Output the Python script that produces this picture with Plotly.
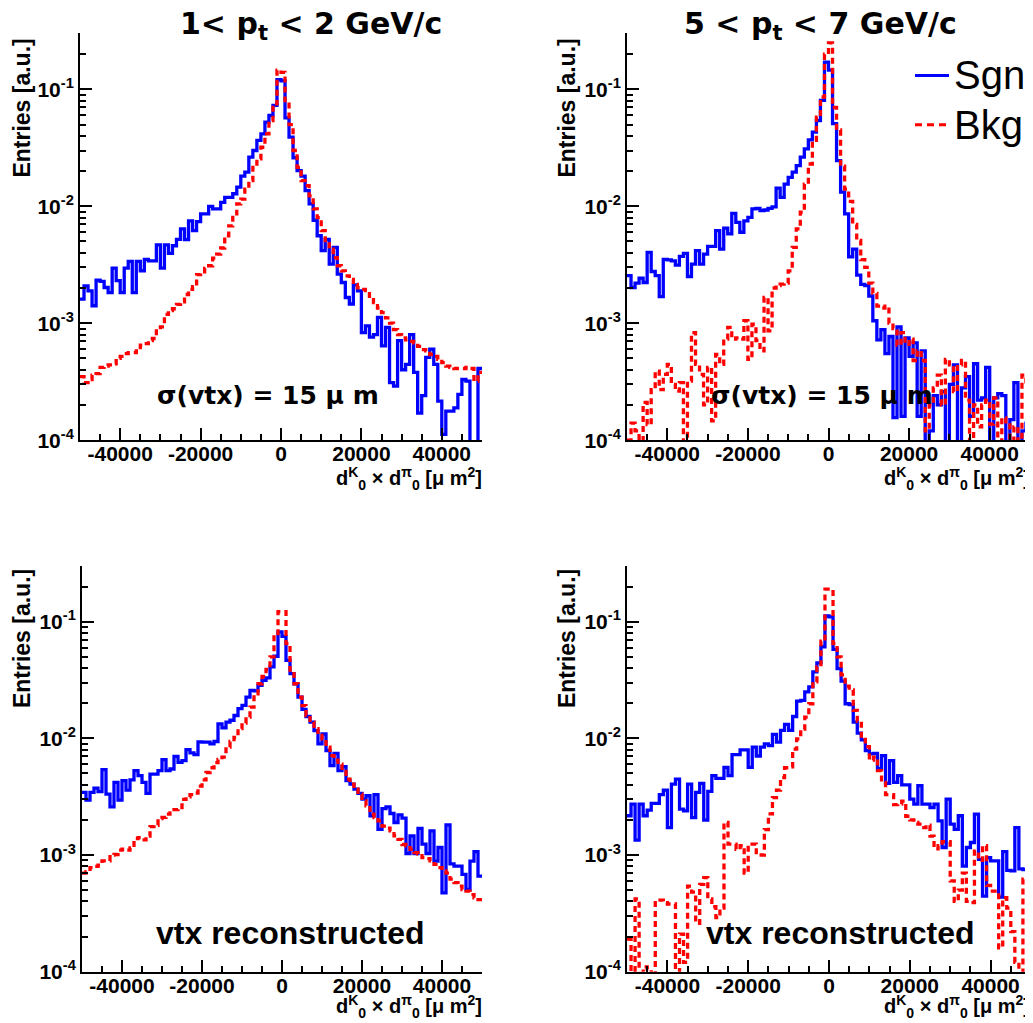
import numpy as np
import plotly.graph_objects as go

# ---------------- data (bin contents, 100 bins from -50000 to 50000) ----------------
bin_lo, bin_hi, n_bins = -50000, 50000, 100

sgn_p1 = [1.61e-3, 2.09e-3, 1.89e-3, 1.41e-3, 2.34e-3, 2.28e-3, 2.02e-3, 1.83e-3, 2.96e-3, 2.31e-3,
          1.83e-3, 2.96e-3, 3.38e-3, 1.83e-3, 3.38e-3, 2.81e-3, 3.52e-3, 3.42e-3, 3.42e-3, 4.67e-3,
          2.96e-3, 4.67e-3, 3.96e-3, 4.6e-3, 5.21e-3, 6.4e-3, 5.18e-3, 7.5e-3, 6.2e-3, 7.4e-3,
          8.6e-3, 8.6e-3, 1.0e-2, 9.5e-3, 9.5e-3, 1.08e-2, 1.19e-2, 1.19e-2, 1.28e-2, 1.46e-2,
          1.81e-2, 1.96e-2, 2.63e-2, 3.0e-2, 3.66e-2, 4.17e-2, 5.25e-2, 5.98e-2, 7.3e-2, 0.121,
          0.118, 0.057, 0.039, 0.026, 0.0202, 0.0181, 0.0136, 0.0105, 7.6e-3, 5.6e-3,
          4.17e-3, 5.2e-3, 3.2e-3, 4.45e-3, 2.63e-3, 2.23e-3, 1.66e-3, 1.46e-3, 2.13e-3, 1.89e-3,
          8.3e-4, 9.5e-4, 7.6e-4, 8.0e-4, 1.12e-3, 6.4e-4, 9.2e-4, 3.1e-4, 2.9e-4, 7.1e-4,
          4.0e-4, 4.45e-4, 8.0e-4, 3.8e-4, 1.7e-4, 2.4e-4, 5.1e-4, 6.0e-4, 4.45e-4, 2.16e-4,
          1.12e-4, 1.77e-4, 1.77e-4, 1.89e-4, 2.46e-4, 3.3e-4, 3.2e-4, 0, 0, 4.1e-4]

bkg_p1 = [3.5e-4, 3.1e-4, 3.3e-4, 3.6e-4, 3.7e-4, 4.2e-4, 4.3e-4, 4.4e-4, 4.5e-4, 5.0e-4,
          5.2e-4, 5.5e-4, 5.6e-4, 5.6e-4, 5.8e-4, 6.5e-4, 6.7e-4, 7.1e-4, 7.4e-4, 8.6e-4,
          9.3e-4, 1.19e-3, 1.28e-3, 1.33e-3, 1.45e-3, 1.52e-3, 1.76e-3, 1.95e-3, 2.05e-3, 2.6e-3,
          2.75e-3, 2.95e-3, 3.1e-3, 3.6e-3, 3.9e-3, 4.4e-3, 5.6e-3, 6.8e-3, 8.6e-3, 1.05e-2,
          1.15e-2, 1.4e-2, 1.66e-2, 2.15e-2, 2.54e-2, 3.2e-2, 4.16e-2, 5.4e-2, 7.5e-2, 0.146,
          0.14, 0.08, 0.05, 0.030, 0.0215, 0.0166, 0.015, 0.0123, 9.5e-3, 8.0e-3,
          6.2e-3, 5.1e-3, 4.3e-3, 3.64e-3, 3.1e-3, 2.8e-3, 2.54e-3, 2.37e-3, 2.15e-3, 2.01e-3,
          1.95e-3, 1.9e-3, 1.7e-3, 1.5e-3, 1.35e-3, 1.23e-3, 1.11e-3, 1.0e-3, 8.8e-4, 8.0e-4,
          7.5e-4, 7.2e-4, 7.0e-4, 6.8e-4, 6.35e-4, 5.95e-4, 5.8e-4, 5.4e-4, 5.2e-4, 4.9e-4,
          4.6e-4, 4.3e-4, 4.2e-4, 4.1e-4, 4.1e-4, 4.1e-4, 4.2e-4, 4.1e-4, 3.2e-4, 3.8e-4]

sgn_p2 = [2.55e-3, 2.02e-3, 2.2e-3, 2.43e-3, 2.23e-3, 4.03e-3, 2.77e-3, 2.55e-3, 1.69e-3, 3.52e-3,
          3.48e-3, 3.42e-3, 3.14e-3, 3.73e-3, 3.96e-3, 2.51e-3, 3.2e-3, 4.17e-3, 3.2e-3, 3.9e-3,
          4.54e-3, 4.55e-3, 6.2e-3, 4.31e-3, 6.5e-3, 5.8e-3, 8.7e-3, 7.3e-3, 6.0e-3, 7.5e-3,
          8.05e-3, 9.5e-3, 9.6e-3, 9.2e-3, 9.3e-3, 9.6e-3, 9.9e-3, 1.43e-2, 1.19e-2, 1.55e-2,
          1.77e-2, 1.96e-2, 2.23e-2, 2.63e-2, 3.1e-2, 3.7e-2, 4.3e-2, 5.4e-2, 8.05e-2, 0.171,
          0.146, 0.051, 0.0246, 0.0132, 8.6e-3, 3.7e-3, 4.3e-3, 2.58e-3, 2.15e-3, 2.1e-3,
          1.71e-3, 1.05e-3, 7.2e-4, 8.8e-4, 5.5e-4, 7.7e-4, 1.56e-4, 9.3e-4, 1.6e-4, 7.5e-4,
          5.2e-4, 6.8e-4, 1.6e-4, 5.8e-4, 0, 1.2e-4, 2.4e-4, 2.0e-4, 2.6e-4, 0,
          3.0e-4, 4.4e-4, 0, 2.8e-4, 3.5e-4, 1.6e-4, 4.5e-4, 2.2e-4, 2.3e-4, 4.2e-4,
          0, 2.3e-4, 2.5e-4, 2.4e-4, 0, 1.5e-4, 3.1e-4, 0, 1.2e-4, 1.4e-4]

bkg_p2 = [1.0e-4, 1.4e-4, 1.2e-4, 0, 2.1e-4, 1.36e-4, 2.7e-4, 3.9e-4, 2.7e-4, 3.65e-4,
          4.45e-4, 3.0e-4, 2.63e-4, 3.1e-4, 0, 3.2e-4, 8.3e-4, 4.45e-4, 3.65e-4, 2.0e-4,
          4.2e-4, 1.46e-4, 5.4e-4, 4.45e-4, 7.3e-4, 9.2e-4, 7.3e-4, 7.5e-4, 7.3e-4, 1.05e-3,
          4.9e-4, 9.8e-4, 7.1e-4, 5.8e-4, 1.66e-3, 8.6e-4, 2.0e-3, 2.1e-3, 2.16e-3, 2.2e-3,
          2.8e-3, 4.45e-3, 6.4e-3, 8.9e-3, 1.55e-2, 2.3e-2, 3.66e-2, 5.8e-2, 8.6e-2, 0.2,
          0.25, 0.07, 0.045, 0.022, 0.014, 0.011, 7.0e-3, 5.1e-3, 3.5e-3, 3.0e-3,
          2.2e-3, 1.8e-3, 1.4e-3, 1.35e-3, 1.4e-3, 1.0e-3, 9.0e-4, 6.5e-4, 8.3e-4, 6.6e-4,
          7.3e-4, 4.8e-4, 5.8e-4, 4.8e-4, 1.2e-4, 2.0e-4, 2.8e-4, 3.6e-4, 2.0e-4, 4.9e-4,
          4.4e-4, 2.6e-4, 4.4e-4, 4.8e-4, 2.2e-4, 0, 2.0e-4, 1.3e-4, 2.0e-4, 2.2e-4,
          1.37e-4, 2.3e-4, 0, 1.55e-4, 1.35e-4, 0, 1.3e-4, 0, 3.6e-4, 3.0e-4]

sgn_p3 = [3.44e-3, 2.96e-3, 3.44e-3, 3.75e-3, 3.5e-3, 5.39e-3, 3.33e-3, 2.59e-3, 4.2e-3, 2.96e-3,
          4.34e-3, 3.6e-3, 4.4e-3, 5.28e-3, 4.79e-3, 4.2e-3, 3.37e-3, 4.94e-3, 4.94e-3, 5.28e-3,
          6.58e-3, 5.28e-3, 5.46e-3, 7.0e-3, 6.23e-3, 6.44e-3, 8.0e-3, 7.5e-3, 7.26e-3, 9.33e-3,
          9.27e-3, 9.27e-3, 8.97e-3, 9.4e-3, 1.33e-2, 1.23e-2, 1.38e-2, 1.43e-2, 1.57e-2, 1.8e-2,
          1.92e-2, 2.26e-2, 2.58e-2, 2.55e-2, 2.85e-2, 3.15e-2, 3.3e-2, 4.1e-2, 5.06e-2, 8.2e-2,
          7.5e-2, 4.67e-2, 3.59e-2, 2.94e-2, 2.26e-2, 1.77e-2, 1.54e-2, 1.38e-2, 1.167e-2, 8.97e-3,
          1.09e-2, 7.85e-3, 5.83e-3, 7.45e-3, 5.28e-3, 5.73e-3, 4.34e-3, 4.06e-3, 3.67e-3, 3.37e-3,
          3.01e-3, 3.22e-3, 2.17e-3, 3.29e-3, 1.66e-3, 2.5e-3, 2.59e-3, 2.27e-3, 1.9e-3, 2.21e-3,
          2.07e-3, 1.03e-3, 1.46e-3, 1.03e-3, 1.69e-3, 1.24e-3, 1.03e-3, 1.61e-3, 8.87e-4, 1.16e-3,
          4.74e-4, 1.81e-3, 8.4e-4, 8.03e-4, 8.03e-4, 6.82e-4, 5.06e-4, 8.87e-4, 1.07e-3, 6.6e-4]

bkg_p3 = [7.0e-4, 7.2e-4, 7.8e-4, 8.0e-4, 8.2e-4, 8.9e-4, 8.9e-4, 1.0e-3, 1.01e-3, 1.1e-3,
          1.12e-3, 1.1e-3, 1.15e-3, 1.38e-3, 1.41e-3, 1.35e-3, 1.45e-3, 1.75e-3, 1.8e-3, 2.05e-3,
          2.1e-3, 2.24e-3, 2.3e-3, 2.45e-3, 2.55e-3, 3.0e-3, 3.15e-3, 3.3e-3, 3.4e-3, 3.9e-3,
          4.4e-3, 5.1e-3, 5.6e-3, 6.2e-3, 6.6e-3, 6.9e-3, 8.4e-3, 9.4e-3, 1.02e-2, 1.21e-2,
          1.35e-2, 1.52e-2, 1.85e-2, 2.41e-2, 2.94e-2, 3.4e-2, 3.9e-2, 5.0e-2, 7.4e-2, 0.122,
          0.122, 0.065, 0.0384, 0.0294, 0.0226, 0.0191, 0.0157, 0.0138, 0.0121, 0.0106,
          9.9e-3, 8.4e-3, 7.1e-3, 6.5e-3, 6.0e-3, 5.2e-3, 4.48e-3, 4.06e-3, 3.67e-3, 3.32e-3,
          2.91e-3, 2.64e-3, 2.24e-3, 2.09e-3, 1.96e-3, 1.77e-3, 1.7e-3, 1.61e-3, 1.46e-3, 1.36e-3,
          1.23e-3, 1.2e-3, 1.12e-3, 1.05e-3, 1.02e-3, 9.5e-4, 9.3e-4, 8.9e-4, 8.3e-4, 7.8e-4,
          7.3e-4, 7.0e-4, 6.2e-4, 5.8e-4, 5.4e-4, 5.06e-4, 4.9e-4, 4.58e-4, 4.3e-4, 4.15e-4]

sgn_p4 = [2.17e-3, 2.73e-3, 1.34e-3, 2.73e-3, 2.17e-3, 2.43e-3, 2.77e-3, 2.77e-3, 3.29e-3, 3.6e-3,
          1.72e-3, 4.06e-3, 4.48e-3, 2.47e-3, 2.39e-3, 4.06e-3, 2.09e-3, 3.44e-3, 4.11e-3, 1.99e-3,
          3.51e-3, 4.79e-3, 4.54e-3, 4.54e-3, 5.65e-3, 4.79e-3, 7.26e-3, 7.26e-3, 7.96e-3, 7.96e-3,
          5.65e-3, 8.4e-3, 7.06e-3, 8.4e-3, 8.97e-3, 8.68e-3, 1.08e-2, 9.27e-3, 1.17e-2, 1.32e-2,
          1.17e-2, 1.54e-2, 2.09e-2, 2.12e-2, 2.5e-2, 2.76e-2, 3.71e-2, 4.44e-2, 6.1e-2, 0.112,
          0.11, 0.058, 0.0396, 0.031, 0.0198, 0.0195, 0.0138, 0.0111, 9.7e-3, 7.85e-3,
          7.36e-3, 7.45e-3, 5.5e-3, 7.1e-3, 4.11e-3, 6.44e-3, 4.2e-3, 4.79e-3, 4.0e-3, 4.0e-3,
          3.01e-3, 2.73e-3, 3.93e-3, 2.73e-3, 2.73e-3, 2.55e-3, 2.73e-3, 1.96e-3, 1.16e-3, 3.01e-3,
          1.84e-3, 1.66e-3, 2.17e-3, 8.03e-4, 1.16e-3, 1.28e-3, 2.24e-3, 9.18e-4, 4.44e-4, 9.5e-4,
          8.9e-4, 8.9e-4, 4.35e-4, 1.07e-3, 7.38e-4, 7.3e-4, 1.72e-3, 7.6e-4, 7.5e-4, 7.1e-4]

bkg_p4 = [1.9e-4, 0, 4.2e-4, 0, 1.1e-4, 1.05e-4, 0, 4.1e-4, 4.1e-4, 3.9e-4,
          3.8e-4, 3.8e-4, 0, 2.1e-4, 1.2e-4, 5.4e-4, 4.8e-4, 2.6e-4, 5.6e-4, 6.4e-4,
          4.2e-4, 3.6e-4, 2.9e-4, 3.5e-4, 1.9e-3, 1.24e-3, 1.24e-3, 1.12e-3, 1.2e-3, 7.0e-4,
          1.24e-3, 1.24e-3, 1.0e-3, 1.0e-3, 1.65e-3, 2.25e-3, 3.1e-3, 3.6e-3, 4.6e-3, 5.6e-3,
          5.7e-3, 8.1e-3, 9.9e-3, 1.2e-2, 1.52e-2, 1.98e-2, 3.05e-2, 4.1e-2, 6.8e-2, 0.19,
          0.19, 0.065, 0.05, 0.035, 0.028, 0.026, 0.0174, 0.014, 9.8e-3, 8.5e-3,
          6.5e-3, 6.9e-3, 5.3e-3, 4.2e-3, 3.3e-3, 3.3e-3, 2.7e-3, 2.73e-3, 2.9e-3, 2.15e-3,
          2.0e-3, 1.9e-3, 1.84e-3, 1.72e-3, 1.8e-3, 1.45e-3, 1.13e-3, 1.2e-3, 1.3e-3, 1.3e-3,
          6.0e-4, 4.0e-4, 5.0e-4, 7.0e-4, 4.0e-4, 3.9e-4, 1.08e-3, 9.0e-4, 1.2e-3, 5.5e-4,
          4.9e-4, 4.9e-4, 1.6e-4, 4.3e-4, 3.5e-4, 2.2e-4, 1.2e-4, 0, 6.2e-4, 4.0e-4]

x_tick_vals = [-40000, -20000, 0, 20000, 40000]
y_tick_vals = [1e-4, 1e-3, 1e-2, 1e-1]
y_tick_text = ["10<sup>-4</sup>", "10<sup>-3</sup>", "10<sup>-2</sup>", "10<sup>-1</sup>"]

titles = ["1&lt; p<sub>t</sub> &lt; 2 GeV/c", "5 &lt; p<sub>t</sub> &lt; 7 GeV/c"]
labels = ["σ(vtx) = 15 μ m", "vtx reconstructed"]
y_title = "Entries [a.u.]"
x_title = "d<sup>K</sup><sub>0</sub> × d<sup>π</sup><sub>0</sub> [μ m<sup>2</sup>]"
legend_names = ["Sgn", "Bkg"]

# ---------------- figure ----------------
# Positions below are given in window pixels; the page keeps its default 8px body
# margin and the captured page height (8 + H + 8) is mapped onto the 1023px window.
W, H, OFF = 1033, 1023, 8
VS = 1023.0 / (H + 2 * OFF)      # vertical factor between page and picture
BLUE, RED = "#0000ff", "#ff0000"
edges = np.linspace(bin_lo, bin_hi, n_bins + 1)


def fx(x):
    return (float(x) - OFF) / W


def fy(y):
    return 1.0 - (float(y) / VS - OFF) / H


panels = [
    dict(box=(80, 482, 33, 438), sgn=sgn_p1, bkg=bkg_p1),
    dict(box=(627, 1030, 33, 438), sgn=sgn_p2, bkg=bkg_p2),
    dict(box=(82, 482, 563, 967), sgn=sgn_p3, bkg=bkg_p3),
    dict(box=(627, 1031, 563, 967), sgn=sgn_p4, bkg=bkg_p4),
]

try:
    go.layout.XAxis(ticklabelstandoff=-6)
    XSTAND = -6
except Exception:
    XSTAND = 0

fig = go.Figure()
layout = dict(width=W, height=H, margin=dict(l=0, r=0, t=0, b=0),
              paper_bgcolor="white", plot_bgcolor="white", showlegend=False)

minor_y = [k * 10.0 ** e for e in range(-4, 0) for k in range(2, 10) if k * 10.0 ** e < 0.3]


def step_y(vals):
    v = np.asarray(vals, dtype=float)
    v = np.where(v > 0, v, 1e-7)
    return np.append(v, v[-1])


TICKFONT = dict(family="Liberation Sans, Arial", size=21, color="black", weight="bold")

for i, p in enumerate(panels):
    n = i + 1
    xa = "x" if n == 1 else f"x{n}"
    ya = "y" if n == 1 else f"y{n}"
    fig.add_trace(go.Scatter(x=edges, y=step_y(p["sgn"]), mode="lines", line_shape="hv",
                             line=dict(color=BLUE, width=3.3), xaxis=xa, yaxis=ya,
                             name=legend_names[0], hoverinfo="skip"))
    fig.add_trace(go.Scatter(x=edges, y=step_y(p["bkg"]), mode="lines", line_shape="hv",
                             line=dict(color=RED, width=3.3, dash="6px,4px"), xaxis=xa, yaxis=ya,
                             name=legend_names[1], hoverinfo="skip"))
    x0, x1, y0, y1 = p["box"]
    xaxis = dict(
        domain=[fx(x0), fx(x1)], anchor=ya, range=[bin_lo, bin_hi],
        showgrid=False, zeroline=False, showline=True, linecolor="black", linewidth=2,
        ticks="inside", ticklen=12, tickwidth=2, tickcolor="black",
        tickmode="array", tickvals=x_tick_vals, ticktext=[str(v) for v in x_tick_vals],
        tickfont=TICKFONT,
        minor=dict(ticks="inside", ticklen=6, tickwidth=1.5, tickcolor="black",
                   dtick=5000, tick0=0, showgrid=False),
    )
    if XSTAND:
        xaxis["ticklabelstandoff"] = XSTAND
    layout[f"xaxis{'' if n == 1 else n}"] = xaxis
    layout[f"yaxis{'' if n == 1 else n}"] = dict(
        domain=[fy(y1), fy(y0)], anchor=xa, type="log", range=[-4, -0.52],
        showgrid=False, zeroline=False, showline=True, linecolor="black", linewidth=2,
        ticks="inside", ticklen=12, tickwidth=2, tickcolor="black",
        tickmode="array", tickvals=y_tick_vals, ticktext=y_tick_text,
        tickfont=TICKFONT,
        minor=dict(ticks="inside", ticklen=6, tickwidth=1.5, tickcolor="black",
                   tickmode="array", tickvals=minor_y, showgrid=False),
    )

fig.update_layout(**layout)


def add_text(x, y, text, size, family="Liberation Sans, Arial", weight="bold",
             xanchor="center", yanchor="middle", angle=0):
    fig.add_annotation(x=fx(x), y=fy(y), xref="paper", yref="paper", text=text,
                       showarrow=False, xanchor=xanchor, yanchor=yanchor, textangle=angle,
                       font=dict(family=family, size=size, color="black", weight=weight))


# titles
add_text(311, 25, titles[0], 30, family="DejaVu Sans")
add_text(820, 25, titles[1], 30, family="DejaVu Sans")
# y axis titles
for (xc, yc) in [(22, 108), (567, 108), (22, 636), (567, 636)]:
    add_text(xc, yc, y_title, 23, angle=-90)
# x axis titles
for (xr, yc) in [(484, 476), (1032, 476), (484, 1002), (1032, 1002)]:
    add_text(xr, yc, x_title, 20, xanchor="right")
# in-plot labels
add_text(268, 394, labels[0], 25, family="DejaVu Sans")
add_text(822, 394, labels[0], 25, family="DejaVu Sans")
add_text(290, 929, labels[1], 32)
add_text(840, 929, labels[1], 32)
# legend
add_text(952, 75, legend_names[0], 40, weight="normal", xanchor="left")
add_text(952, 124, legend_names[1], 40, weight="normal", xanchor="left")

fig.add_shape(type="line", xref="paper", yref="paper", x0=fx(915), x1=fx(949),
              y0=fy(75), y1=fy(75), line=dict(color=BLUE, width=3))
fig.add_shape(type="line", xref="paper", yref="paper", x0=fx(915), x1=fx(949),
              y0=fy(124), y1=fy(124), line=dict(color=RED, width=3, dash="7px,5px"))

# hide scrollbars so they do not cover the right edge of the figure
page_js = "document.documentElement.style.overflow='hidden';"
fig.write_html("out.html", config={"displayModeBar": False}, post_script=page_js)
